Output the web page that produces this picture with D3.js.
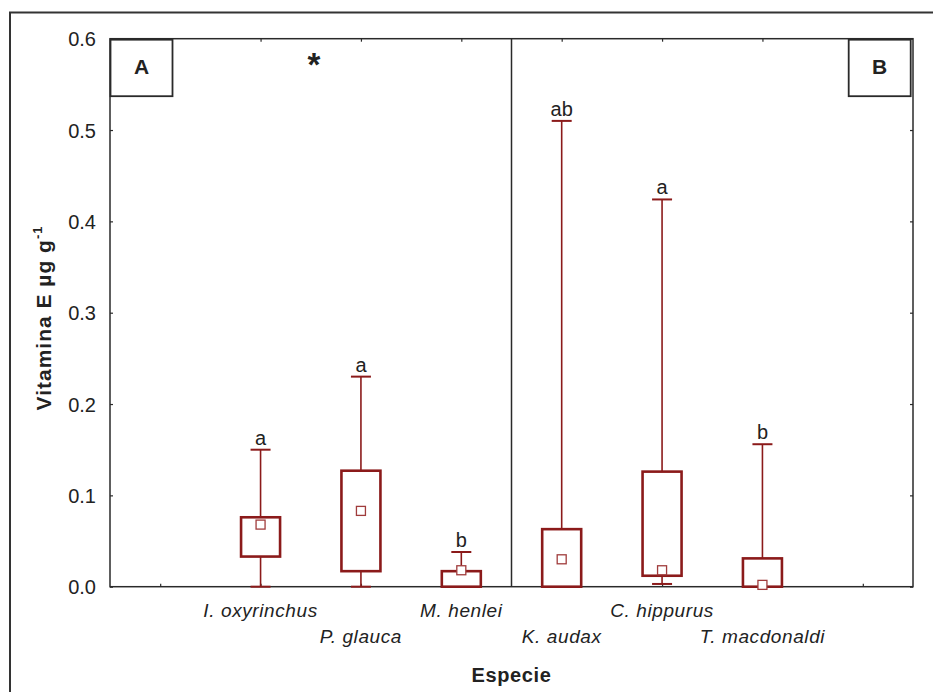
<!DOCTYPE html>
<html>
<head>
<meta charset="utf-8">
<script src="https://cdn.jsdelivr.net/npm/d3@7"></script>
<style>
  body { margin: 0; background: #fff; }
  text { font-family: Arial, "Liberation Sans", sans-serif; fill: #222; }
</style>
</head>
<body>
<svg id="chart" width="933" height="692"></svg>
<script>
// values
const species = ["I. oxyrinchus", "P. glauca", "M. henlei", "K. audax", "C. hippurus", "T. macdonaldi"];
const boxLow = [0.033, 0.017, 0.0, 0.0, 0.012, 0.0];
const boxHigh = [0.076, 0.127, 0.017, 0.063, 0.126, 0.031];
const whiskLow = [0.0, 0.0, 0.0, 0.0, 0.003, 0.0];
const whiskHigh = [0.150, 0.230, 0.038, 0.510, 0.424, 0.156];
const means = [0.068, 0.083, 0.018, 0.030, 0.018, 0.002];
const letters = ["a", "a", "b", "ab", "a", "b"];
const yTicks = [0.0, 0.1, 0.2, 0.3, 0.4, 0.5, 0.6];

const red = "#8b1a1a";
const axisCol = "#2a2a2a";

const svg = d3.select("#chart");

// outer frame (runs off the right and bottom of the picture)
svg.append("rect")
    .attr("x", 10).attr("y", 12.5)
    .attr("width", 940).attr("height", 700)
    .attr("fill", "none").attr("stroke", "#333").attr("stroke-width", 2);

const pLeft = 110, pRight = 913, pTop = 38.7, pBottom = 586.7;

// 8 slots: empty, 6 species, empty
const x = d3.scalePoint().domain(d3.range(8)).range([pLeft, pRight]).padding(0.5);
const y = d3.scaleLinear().domain([0, 0.6]).range([pBottom, pTop]);

// plot border
svg.append("rect")
    .attr("x", pLeft).attr("y", pTop)
    .attr("width", pRight - pLeft).attr("height", pBottom - pTop)
    .attr("fill", "none").attr("stroke", axisCol).attr("stroke-width", 1.5);

// divider between groups
svg.append("line")
    .attr("x1", (pLeft + pRight) / 2).attr("x2", (pLeft + pRight) / 2)
    .attr("y1", pTop).attr("y2", pBottom)
    .attr("stroke", axisCol).attr("stroke-width", 1.5);

// axes with inward ticks
const yAxisL = d3.axisLeft(y).tickValues(yTicks).tickFormat(d3.format(".1f")).tickSize(-3).tickPadding(14);
const gL = svg.append("g").attr("transform", `translate(${pLeft},0)`).call(yAxisL);
gL.select(".domain").remove();
gL.selectAll("line").attr("stroke", axisCol).attr("stroke-width", 1.2);
gL.selectAll("text").attr("font-size", 20).attr("dy", "0.36em").style("fill", "#222");

const yAxisR = d3.axisRight(y).tickValues(yTicks).tickSize(-3).tickFormat("");
const gR = svg.append("g").attr("transform", `translate(${pRight},0)`).call(yAxisR);
gR.select(".domain").remove();
gR.selectAll("line").attr("stroke", axisCol).attr("stroke-width", 1.2);

const xAxisB = d3.axisBottom(x).tickSize(-3).tickFormat("");
const gB = svg.append("g").attr("transform", `translate(0,${pBottom})`).call(xAxisB);
gB.select(".domain").remove();
gB.selectAll("line").attr("stroke", axisCol).attr("stroke-width", 1.2);

const xAxisT = d3.axisTop(x).tickSize(-3).tickFormat("");
const gT = svg.append("g").attr("transform", `translate(0,${pTop})`).call(xAxisT);
gT.select(".domain").remove();
gT.selectAll("line").attr("stroke", axisCol).attr("stroke-width", 1.2);

// species labels in two staggered rows
svg.selectAll(".sp")
    .data(species)
    .enter()
    .append("text")
    .attr("class", "sp")
    .attr("x", (d, i) => x(i + 1))
    .attr("y", (d, i) => i % 2 === 0 ? 617 : 643)
    .attr("text-anchor", "middle")
    .attr("font-size", 19)
    .attr("font-style", "italic")
    .attr("letter-spacing", 0.6)
    .text(d => d);

// whiskers, boxes, mean squares, letters
const boxes = svg.append("g");
species.forEach((s, i) => {
    const cx = x(i + 1);
    boxes.append("line")
        .attr("x1", cx).attr("x2", cx)
        .attr("y1", y(whiskLow[i])).attr("y2", y(whiskHigh[i]))
        .attr("stroke", red).attr("stroke-width", 1.6);
    [whiskLow[i], whiskHigh[i]].forEach(v => {
        boxes.append("line")
            .attr("x1", cx - 10).attr("x2", cx + 10)
            .attr("y1", y(v)).attr("y2", y(v))
            .attr("stroke", red).attr("stroke-width", 2);
    });
    boxes.append("rect")
        .attr("x", cx - 19.5).attr("width", 39)
        .attr("y", y(boxHigh[i])).attr("height", y(boxLow[i]) - y(boxHigh[i]))
        .attr("fill", "#fff").attr("stroke", red).attr("stroke-width", 2.6);
    boxes.append("rect")
        .attr("x", cx - 4.5).attr("width", 9)
        .attr("y", y(means[i]) - 4.5).attr("height", 9)
        .attr("fill", "#fff").attr("stroke", "#a03c3c").attr("stroke-width", 1.3);
    boxes.append("text")
        .attr("x", cx).attr("y", y(whiskHigh[i]) - 5)
        .attr("text-anchor", "middle")
        .attr("font-size", 20)
        .text(letters[i]);
});

// panel tags
[["A", pLeft + 0.5], ["B", 848.7]].forEach(([t, bx]) => {
    svg.append("rect")
        .attr("x", bx).attr("y", 39.7)
        .attr("width", 62).attr("height", 56.5)
        .attr("fill", "#fff").attr("stroke", axisCol).attr("stroke-width", 1.8);
    svg.append("text")
        .attr("x", bx + 31).attr("y", 73.5)
        .attr("text-anchor", "middle")
        .attr("font-size", 21).attr("font-weight", "bold")
        .text(t);
});

svg.append("text")
    .attr("x", 314).attr("y", 76)
    .attr("text-anchor", "middle")
    .attr("font-size", 33).attr("font-weight", "bold")
    .text("*");

// axis titles
const yl = svg.append("text")
    .attr("transform", `translate(51,318) rotate(-90)`)
    .attr("text-anchor", "middle")
    .attr("font-size", 21).attr("font-weight", "bold")
    .attr("letter-spacing", 1);
yl.append("tspan").text("Vitamina E µg g");
yl.append("tspan").attr("font-size", 13).attr("dy", -9).text("-1");

svg.append("text")
    .attr("x", (pLeft + pRight) / 2).attr("y", 682)
    .attr("text-anchor", "middle")
    .attr("font-size", 20).attr("font-weight", "bold")
    .attr("letter-spacing", 0.6)
    .text("Especie");
</script>
</body>
</html>
